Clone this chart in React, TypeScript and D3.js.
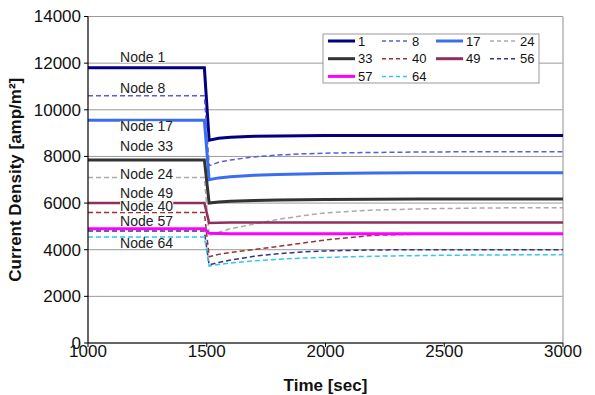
import React from 'react';
import * as d3 from 'd3';

// sample times (sec); the step happens between 1490 and 1510
const times = [1000, 1490, 1510, 1550, 1600, 1700, 1800, 1900, 2000, 2200, 2400, 2600, 2800, 3000];

const node1 = [11800, 11800, 8700, 8780, 8820, 8860, 8880, 8890, 8900, 8900, 8900, 8900, 8900, 8900];
const node8 = [10600, 10600, 7600, 7750, 7850, 7980, 8060, 8110, 8140, 8170, 8190, 8200, 8200, 8200];
const node17 = [9550, 9550, 7000, 7080, 7130, 7190, 7230, 7250, 7270, 7290, 7300, 7300, 7300, 7300];
const node24 = [7100, 7100, 4600, 4750, 4900, 5100, 5300, 5450, 5580, 5700, 5750, 5780, 5800, 5800];
const node33 = [7850, 7850, 6000, 6050, 6080, 6110, 6130, 6140, 6150, 6160, 6170, 6170, 6170, 6170];
const node40 = [5600, 5600, 3700, 3800, 3880, 4010, 4140, 4280, 4420, 4620, 4670, 4680, 4680, 4680];
const node49 = [6000, 6000, 5150, 5160, 5170, 5170, 5170, 5170, 5170, 5170, 5170, 5170, 5170, 5170];
const node56 = [4800, 4800, 3350, 3450, 3560, 3720, 3830, 3900, 3950, 3990, 4000, 4000, 4000, 4000];
const node57 = [4900, 4900, 4700, 4690, 4680, 4680, 4680, 4680, 4680, 4680, 4680, 4680, 4680, 4680];
const node64 = [4550, 4550, 3300, 3370, 3430, 3520, 3590, 3640, 3670, 3720, 3750, 3770, 3780, 3790];

const seriesNames = ['1', '8', '17', '24', '33', '40', '49', '56', '57', '64'];
const seriesValues = [node1, node8, node17, node24, node33, node40, node49, node56, node57, node64];
const seriesColors = ['#000080', '#5a5ae0', '#3a6ef2', '#ababab', '#333333', '#993333', '#8e2f5e', '#333388', '#ff00ff', '#33c6ee'];
const seriesDashed = [false, true, false, true, false, true, false, true, false, true];

// in-plot node annotations (label text, baseline value)
const noteLabels = ['Node 1', 'Node 8', 'Node 17', 'Node 33', 'Node 24', 'Node 49', 'Node 40', 'Node 57', 'Node 64'];
const noteValues = [12050, 10740, 9080, 8220, 7020, 6210, 5640, 5020, 4070];
const noteTime = 1135;

const xTicks = [1000, 1500, 2000, 2500, 3000];
const yTicks = [0, 2000, 4000, 6000, 8000, 10000, 12000, 14000];

const W = 595, H = 395;
const font = 'Liberation Sans, Arial, Helvetica, sans-serif';

const App = () => {
	const x = d3.scaleLinear().domain([1000, 3000]).range([88, 563]);
	const y = d3.scaleLinear().domain([0, 14000]).range([343, 16.5]);

	const line = d3.line<number>()
		.x((d, i) => x(times[i]))
		.y(d => y(d));

	// legend layout
	const lgX = 323, lgY = 34, lgW = 216, lgH = 49;
	const colW = 54, rowH = 17.7;

	return (
		<svg width={W} height={H} style={{ position: 'absolute', left: 0, top: 0, background: '#fff' }} fontFamily={font}>
			{/* grid */}
			{yTicks.map(t => (
				<line key={'g' + t} x1={x(1000)} x2={x(3000)} y1={y(t)} y2={y(t)} stroke="#9a9a9a" strokeWidth={1} />
			))}
			<line x1={x(3000)} x2={x(3000)} y1={y(14000)} y2={y(0)} stroke="#b4b4b4" strokeWidth={1.5} />

			{/* series */}
			{seriesValues.map((vals, i) => (
				<path key={'s' + i} d={line(vals) || ''} fill="none"
					stroke={seriesColors[i]}
					strokeWidth={seriesDashed[i] ? 1.5 : (i === 6 ? 2.5 : 3)}
					strokeDasharray={seriesDashed[i] ? '5,3' : undefined} />
			))}

			{/* node annotations */}
			{noteLabels.map((lab, i) => (
				<g key={'n' + i}>
					<rect x={x(noteTime)} y={y(noteValues[i]) - 10} width={lab.length * 7.6} height={10.5} fill="#fff" />
					<text x={x(noteTime)} y={y(noteValues[i])} fontSize={14} fill="#222">{lab}</text>
				</g>
			))}

			{/* axes */}
			<line x1={x(1000)} x2={x(1000)} y1={y(14000)} y2={y(0)} stroke="#000" strokeWidth={1.2} />
			<line x1={x(1000)} x2={x(3000)} y1={y(0)} y2={y(0)} stroke="#000" strokeWidth={1.2} />
			{yTicks.map(t => (
				<g key={'y' + t}>
					<line x1={x(1000) - 4} x2={x(1000)} y1={y(t)} y2={y(t)} stroke="#000" />
					<text x={81} y={y(t)} dy="0.35em" textAnchor="end" fontSize={17} fill="#111">{t}</text>
				</g>
			))}
			{xTicks.map(t => (
				<g key={'x' + t}>
					<line x1={x(t)} x2={x(t)} y1={y(0)} y2={y(0) + 4} stroke="#000" />
					<text x={x(t)} y={357} textAnchor="middle" fontSize={17} fill="#111">{t}</text>
				</g>
			))}
			<text x={(x(1000) + x(3000)) / 2} y={391} textAnchor="middle" fontSize={17} fontWeight="bold" fill="#111">Time [sec]</text>
			<text transform={`translate(21,${(y(0) + y(14000)) / 2}) rotate(-90)`} textAnchor="middle" fontSize={17} fontWeight="bold" fill="#111">Current Density [amp/m²]</text>

			{/* legend */}
			<rect x={lgX} y={lgY} width={lgW} height={lgH} fill="#fff" stroke="#999" strokeWidth={1} />
			{seriesNames.map((nm, i) => {
				const col = i % 4, row = Math.floor(i / 4);
				const lx = lgX + 5 + col * colW;
				const ly = lgY + 7 + row * rowH;
				return (
					<g key={'l' + i}>
						<line x1={lx} x2={lx + 27} y1={ly} y2={ly} stroke={seriesColors[i]}
							strokeWidth={seriesDashed[i] ? 1.5 : 3}
							strokeDasharray={seriesDashed[i] ? '4,3' : undefined} />
						<text x={lx + 30} y={ly} dy="0.36em" fontSize={13} fill="#111">{nm}</text>
					</g>
				);
			})}
		</svg>
	);
};

export default App;
